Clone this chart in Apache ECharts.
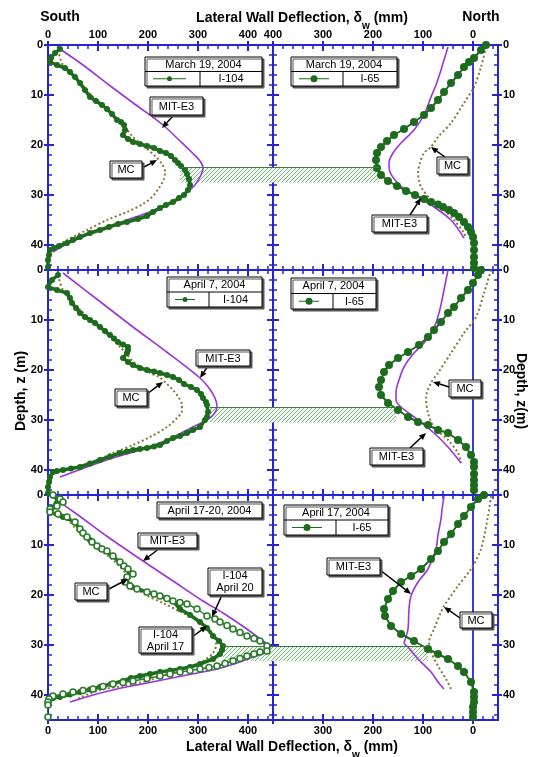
<!DOCTYPE html>
<html><head><meta charset="utf-8">
<script src="https://cdn.jsdelivr.net/npm/echarts@6/dist/echarts.min.js"></script>
<style>html,body{margin:0;padding:0;background:#fff}#c{width:536px;height:757px}</style>
</head><body><div id="c"></div>
<script>
// ===== tick labels =====
const leftXTickLabels = [0, 100, 200, 300, 400];
const rightXTopLabels = [400, 300, 200, 100, 0];
const rightXBottomLabels = [300, 200, 100, 0];
const depthTickLabels = [0, 10, 20, 30, 40];

// ===== series data: [deflection mm, depth m] =====
// Row 1 - March 19, 2004
const I104_mar19 = [[24,0.8],[14,1.6],[6,2.6],[4,3.4],[18,4],[34,4.6],[44,5.4],[54,6.4],[64,7.6],[74,9],[84,10.4],[96,11.2],[108,12],[118,12.8],[128,13.8],[138,15],[146,15.4],[152,16],[154,17],[150,18],[160,18.8],[170,19.4],[184,19.8],[198,20.2],[212,20.6],[224,21.2],[236,21.6],[246,22.2],[254,23],[260,23.6],[266,24.2],[274,25],[278,25.8],[282,26.8],[284,28],[280,29],[272,30],[262,30.6],[250,31.4],[236,32],[224,32.6],[210,33.4],[198,34.2],[180,34.8],[158,35.4],[140,35.8],[122,36.4],[104,37],[84,37.6],[64,38.4],[50,39],[38,39.6],[22,40.2],[12,40.6],[4,41],[2,42],[0,43],[0,44.4]];
const MIT_mar19_S = [[18,0.4],[70,4],[122,8],[176,12],[230,16],[262,19],[288,21.5],[304,23.2],[310,24.6],[306,26],[294,28],[276,29.6],[258,30.8],[238,31.8],[198,33.6],[158,35],[104,37],[60,38.8],[30,40.2],[10,41.4]];
const MC_mar19_S = [[20,1],[30,4],[60,7],[90,10.4],[120,13],[150,16],[172,18.6],[196,20.6],[214,22.2],[228,23.8],[234,25.4],[232,26.8],[222,28.6],[208,30.4],[190,31.8],[158,33.4],[118,35],[78,37],[38,39],[14,40.6]];
const I65_mar19 = [[-26,0],[-16,1],[-2,2.6],[8,3.4],[18,4.4],[30,6],[44,7.6],[58,9.4],[70,11],[84,12.6],[98,14],[118,15.4],[138,16.8],[158,18],[172,19.2],[184,20.4],[192,21.6],[194,23],[192,24.6],[184,26],[170,27.2],[152,28.2],[134,29.2],[116,30],[98,30.8],[84,31.4],[70,31.9],[60,32.4],[48,33],[38,33.6],[28,34.4],[18,35.4],[10,36.4],[4,37.4],[0,38.4],[-2,39.6],[-2,41],[-2,42.4],[-2,43.6],[-2,44.6]];
const MIT_mar19_N = [[50,0.4],[58,3],[64,5],[74,8],[84,10.4],[98,14],[118,17],[144,19.6],[160,21.6],[168,23.6],[166,25.4],[156,27],[140,28.6],[110,30.4],[78,32.4],[44,35],[18,38.6]];
const MC_mar19_N = [[-26,0.4],[-16,4.4],[-2,8.4],[18,11.6],[44,15.6],[70,18.4],[84,20.4],[98,21.6],[106,23.6],[110,25.6],[108,27],[104,28.4],[84,31],[58,33],[38,35],[18,37.6],[14,38.6]];

// Row 2 - April 7, 2004
const I104_apr7 = [[20,1],[8,2],[0,3.4],[18,4],[38,4.6],[44,5.6],[48,6.6],[56,7.6],[64,8.6],[74,9.4],[84,10],[94,10.6],[104,11.4],[114,12.2],[124,13],[132,13.7],[140,14.4],[150,14.9],[160,15.4],[160,16],[158,16.6],[150,17.6],[160,18.4],[170,19],[184,19.6],[198,20],[212,20.3],[224,20.6],[238,21],[250,21.4],[262,22],[272,22.8],[286,23.4],[298,24],[306,24.8],[310,25.6],[316,26.4],[318,27],[320,28.4],[318,29.4],[314,30],[304,31.4],[290,32],[278,32.6],[264,33.2],[250,33.6],[238,34.2],[224,35],[212,35.3],[198,35.6],[184,35.8],[170,36],[158,36.3],[144,36.6],[124,37.3],[104,38],[84,38.7],[64,39.4],[46,39.7],[30,40],[18,40.2],[10,40.4],[4,41.4],[2,42.4],[0,43.4],[0,44.6]];
const MIT_apr7_S = [[30,0.6],[100,6],[170,11.4],[240,16.6],[304,21.6],[322,23.6],[334,25.6],[338,27.4],[332,28.8],[318,30],[298,31],[278,32],[238,34],[184,36],[130,37.6],[78,39.4],[24,41.4]];
const MC_apr7_S = [[20,1],[30,4],[60,7.5],[90,10.5],[120,13],[150,16],[172,18.5],[200,20.4],[222,21.4],[236,22.6],[250,24],[262,25.6],[268,27],[268,28.2],[258,29.6],[238,31.4],[204,33.4],[170,35],[130,36.6],[90,38.4],[50,39.6]];
const I65_apr7 = [[-16,0],[-10,1],[0,2.6],[10,4],[24,5.6],[38,7.4],[50,8.6],[64,10.4],[78,12],[90,13.4],[108,15],[130,16.4],[150,17.6],[168,19],[178,20.4],[184,22],[188,23.4],[184,25],[170,26.6],[150,28],[130,29.4],[110,30.4],[90,31],[70,32],[50,32.6],[30,34],[14,35.4],[4,37],[-2,38.4],[-2,39.4],[-2,40.8],[-2,42],[-2,43],[-2,44]];
const MIT_apr7_N = [[50,0],[54,2],[58,4],[68,8.6],[80,12],[98,14.6],[118,16.6],[138,19.4],[150,22.6],[154,24.4],[154,26],[144,27.4],[110,30],[78,32.6],[50,35.4],[24,38.6]];
const MC_apr7_N = [[-36,0],[-22,4.6],[-6,9.4],[18,12.6],[44,16.6],[70,20.6],[84,22.6],[94,25.4],[90,28.6],[78,31.4],[50,34],[30,36.6],[24,38.6]];

// Row 3 - April 17-20, 2004
const I104_apr20 = [[10,0],[24,0.8],[30,1.4],[18,2.2],[4,2.8],[4,3.4],[20,3.8],[38,4.4],[54,5.4],[64,6.8],[70,7.6],[78,8.4],[88,9.4],[98,10.2],[108,10.8],[118,11.2],[130,12.2],[144,13.4],[152,14.2],[160,14.8],[170,15.8],[158,16.4],[154,17.4],[164,18.2],[178,18.8],[198,19.4],[212,19.8],[224,20.2],[238,20.7],[250,21.2],[264,21.5],[278,21.8],[298,22.8],[318,24.2],[334,24.8],[344,25.4],[358,26.1],[370,26.8],[384,27.5],[398,28.2],[412,28.7],[424,29.2],[438,30.2],[438,31.2],[424,31.4],[412,31.8],[398,32.2],[384,32.7],[370,33.2],[354,33.7],[338,34.2],[322,34.5],[304,34.8],[284,35.1],[264,35.4],[244,35.8],[224,36.2],[198,36.7],[170,37.2],[150,37.5],[130,37.8],[110,38.3],[90,38.8],[70,39.1],[50,39.4],[30,39.8],[10,40.2],[2,40.8],[0,41.4],[0,42],[-2,42.6],[-2,43.2],[-2,43.6],[0,44.4]];
const I104_apr17 = [[10,0],[20,1],[8,2.6],[4,3.4],[30,4.4],[54,5.4],[64,7],[84,9],[104,10.6],[130,12.2],[150,14.2],[164,15.6],[156,17],[168,18.4],[198,19.4],[224,20.2],[250,21.2],[264,22.8],[284,24],[304,25.4],[318,26.6],[330,28.2],[342,29.2],[350,30.2],[348,31],[344,31.8],[330,32.8],[304,33.8],[284,34.4],[264,34.8],[244,35.1],[224,35.4],[204,35.8],[184,36.2],[166,36.6],[150,37.2],[126,37.8],[104,38.4],[84,38.9],[64,39.4],[44,39.9],[24,40.4],[10,40.6],[4,40.8]];
const MIT_apr17_S = [[4,0],[60,4],[120,8.4],[190,13.2],[250,17.2],[310,21.2],[350,23.6],[392,26.4],[430,29.2],[444,30.4],[438,31.4],[410,32.4],[384,33.4],[338,34.8],[288,35.8],[238,36.8],[188,37.8],[138,38.8],[90,40],[44,41.4]];
const MC_apr17_S = [[10,0.4],[20,3],[40,5],[64,7.6],[96,10.4],[130,13],[160,16.2],[168,18],[196,20],[230,21.6],[270,23.6],[300,25],[320,26.6],[334,28.4],[336,30],[330,31.6],[310,33.2],[280,34.6],[240,35.8],[198,37.2],[150,38.2],[104,39],[58,40.8]];
const I65_apr17 = [[-22,0],[-10,0.8],[4,2.4],[18,4.2],[30,5.8],[44,7.8],[58,9.4],[70,11.2],[84,12.8],[104,14.8],[124,16.2],[144,17.4],[160,19.2],[170,20.8],[178,22.8],[176,24.2],[164,26.2],[144,27.8],[118,29.2],[90,30.8],[70,31.8],[50,32.8],[30,34.2],[18,35.4],[4,37.4],[-2,39.4],[-2,40.4],[-2,41.4],[0,42.4],[0,43.4],[0,44.4]];
const MIT_apr17_N = [[58,0.2],[62,3],[64,4.8],[70,8],[74,10.8],[90,14.8],[110,17.4],[124,20.2],[128,22.8],[130,26.8],[136,29],[138,29.6],[130,30.4],[110,32.8],[84,35.4],[70,37.4],[58,38.8]];
const MC_apr17_N = [[-36,0.2],[-30,4.2],[-16,10.8],[4,14.8],[30,18.2],[58,22.2],[64,23.4],[78,26.8],[88,29.4],[84,31.4],[70,34.2],[54,36.8],[44,38.8]];

// zero reference lines (North panels)
const zeroLine1 = [[0,3],[0,39]];
const zeroLine2 = [[0,2.6],[0,40]];
const zeroLine3 = [[0,1.5],[0,39.5]];

// hatched bands per row: depth range, start on South panel, end on North panel
const bandDepths = [[24.5,27.5],[27.5,30.5],[30.2,33.2]];
const bandSouthStart = [264, 324, 350];
const bandNorthEnd = [188, 154, 90];

// ===== styling / layout =====
const FONT = "'Liberation Sans', Arial, Helvetica, sans-serif";
const AX = '#2424d4';
const GREEN = '#1d6b1d';
const PURPLE = '#9a35dc';
const OLIVE = '#8a7638';
const gridLefts = [48, 273];
const gridTops = [45, 270, 495];
const GW = 225, GH = 225;

const chart = echarts.init(document.getElementById('c'), null, {renderer: 'canvas'});

function hatchCanvas() {
  const c = document.createElement('canvas'); c.width = 4; c.height = 4;
  const x = c.getContext('2d');
  x.fillStyle = '#f2f9f2'; x.fillRect(0, 0, 4, 4);
  x.strokeStyle = '#74ad74'; x.lineWidth = 0.9;
  x.beginPath();
  x.moveTo(-1, 5); x.lineTo(5, -1);
  x.moveTo(-1, 1); x.lineTo(1, -1);
  x.moveTo(3, 5); x.lineTo(5, 3);
  x.stroke();
  return c;
}
const hatch = {image: hatchCanvas(), repeat: 'repeat'};

const labelStyle = {color: '#000', fontSize: 11, fontWeight: 'bold', fontFamily: FONT};

const grids = [], xAxes = [], yAxes = [];
for (let row = 0; row < 3; row++) {
  for (let col = 0; col < 2; col++) {
    const g = row * 2 + col;
    grids.push({left: gridLefts[col], top: gridTops[row], width: GW, height: GH, containLabel: false});
    const xmin = col === 0 ? 0 : -50, xmax = col === 0 ? 450 : 400;
    const xMajors = col === 0 ? [0,100,200,300,400] : [400,300,200,100,0];
    const xMinors = [];
    for (let v = (col === 0 ? 20 : -40); v < xmax; v += 20) if (v % 100 !== 0) xMinors.push(v);
    const xb = {type: 'value', gridIndex: g, min: xmin, max: xmax, inverse: col === 1, splitLine: {show: false}};
    ['top', 'bottom'].forEach(pos => {
      const showLab = (pos === 'top' && row === 0) || (pos === 'bottom' && row === 2);
      const labs = pos === 'top' ? (col === 0 ? leftXTickLabels : rightXTopLabels) : (col === 0 ? leftXTickLabels : rightXBottomLabels);
      xAxes.push(Object.assign({}, xb, {position: pos,
        axisLine: {show: true, onZero: false, lineStyle: {color: AX, width: 2}},
        axisTick: {show: true, inside: true, length: 6, customValues: xMajors, lineStyle: {color: AX, width: 2}},
        axisLabel: Object.assign({show: showLab, customValues: labs, margin: 5, hideOverlap: false}, labelStyle)}));
      xAxes.push(Object.assign({}, xb, {position: pos,
        axisLine: {show: false, onZero: false},
        axisTick: {show: true, inside: false, length: 4, customValues: xMajors, lineStyle: {color: AX, width: 2}},
        axisLabel: {show: false}}));
      xAxes.push(Object.assign({}, xb, {position: pos,
        axisLine: {show: false, onZero: false},
        axisTick: {show: true, inside: true, length: 4, customValues: xMinors, lineStyle: {color: AX, width: 1.5}},
        axisLabel: {show: false}}));
    });
    const yMajors = [0,10,20,30,40];
    const yMinors = [];
    for (let v = 2; v < 45; v += 2) if (v % 10 !== 0) yMinors.push(v);
    const yb = {type: 'value', gridIndex: g, min: 0, max: 45, inverse: true, splitLine: {show: false}};
    ['left', 'right'].forEach(pos => {
      const showLab = (pos === 'left' && col === 0) || (pos === 'right' && col === 1);
      yAxes.push(Object.assign({}, yb, {position: pos,
        axisLine: {show: true, onZero: false, lineStyle: {color: AX, width: 2}},
        axisTick: {show: true, inside: true, length: 6, customValues: yMajors, lineStyle: {color: AX, width: 2}},
        axisLabel: Object.assign({show: showLab, customValues: depthTickLabels, margin: 5, hideOverlap: false}, labelStyle)}));
      yAxes.push(Object.assign({}, yb, {position: pos,
        axisLine: {show: false, onZero: false},
        axisTick: {show: true, inside: false, length: 4, customValues: yMajors, lineStyle: {color: AX, width: 2}},
        axisLabel: {show: false}}));
      yAxes.push(Object.assign({}, yb, {position: pos,
        axisLine: {show: false, onZero: false},
        axisTick: {show: true, inside: true, length: 4, customValues: yMinors, lineStyle: {color: AX, width: 1.5}},
        axisLabel: {show: false}}));
    });
  }
}

const series = [];
function ax(g) { return {xAxisIndex: g * 6, yAxisIndex: g * 6}; }
function mitSeries(g, data) {
  series.push(Object.assign({type: 'line', name: 'MIT-E3', data, showSymbol: false, smooth: 0.3, z: 3,
    lineStyle: {color: PURPLE, width: 1.6}, silent: true}, ax(g)));
}
function mcSeries(g, data) {
  series.push(Object.assign({type: 'line', name: 'MC', data, showSymbol: false, smooth: 0.3, z: 2,
    lineStyle: {color: OLIVE, width: 2, type: [2, 2.5]}, silent: true}, ax(g)));
}
function southObs(g, data) {
  series.push(Object.assign({type: 'line', name: 'I-104', data, symbol: 'circle', symbolSize: 6, showAllSymbol: true, z: 4,
    itemStyle: {color: GREEN}, lineStyle: {color: GREEN, width: 3.5}, silent: true}, ax(g)));
}
function northObs(g, data) {
  series.push(Object.assign({type: 'line', name: 'I-65', data, symbol: 'circle', symbolSize: 8, showAllSymbol: true, z: 4,
    itemStyle: {color: GREEN}, lineStyle: {color: GREEN, width: 2}, silent: true}, ax(g)));
}
function openObs(g, data) {
  series.push(Object.assign({type: 'line', name: 'I-104 April 20', data, symbol: 'circle', symbolSize: 6, showAllSymbol: true, z: 5,
    itemStyle: {color: '#fff', borderColor: '#2b7d2b', borderWidth: 1.6}, lineStyle: {color: '#2b7d2b', width: 1.5}, silent: true}, ax(g)));
}
function zeroSeries(g, data) {
  series.push(Object.assign({type: 'line', data, showSymbol: false, z: 1, lineStyle: {color: AX, width: 1.8}, silent: true}, ax(g)));
}
function bandSeries(g, row, x1, x2) {
  const d = bandDepths[row];
  series.push(Object.assign({type: 'line', data: [], z: 1, silent: true,
    markArea: {silent: true, label: {show: false}, itemStyle: {color: hatch, opacity: 1},
      data: [[{coord: [x1, d[0]]}, {coord: [x2, d[1]]}]]},
    markLine: {silent: true, symbol: 'none', label: {show: false}, lineStyle: {color: '#3d7a3d', width: 1, type: 'solid'},
      data: [[{coord: [x1, d[0]]}, {coord: [x2, d[0]]}]]}
  }, ax(g)));
}

bandSeries(0, 0, bandSouthStart[0], 450); bandSeries(1, 0, 400, bandNorthEnd[0]);
mcSeries(0, MC_mar19_S); mitSeries(0, MIT_mar19_S); southObs(0, I104_mar19);
zeroSeries(1, zeroLine1); mcSeries(1, MC_mar19_N); mitSeries(1, MIT_mar19_N); northObs(1, I65_mar19);
bandSeries(2, 1, bandSouthStart[1], 450); bandSeries(3, 1, 400, bandNorthEnd[1]);
mcSeries(2, MC_apr7_S); mitSeries(2, MIT_apr7_S); southObs(2, I104_apr7);
zeroSeries(3, zeroLine2); mcSeries(3, MC_apr7_N); mitSeries(3, MIT_apr7_N); northObs(3, I65_apr7);
bandSeries(4, 2, bandSouthStart[2], 450); bandSeries(5, 2, 400, bandNorthEnd[2]);
mcSeries(4, MC_apr17_S); mitSeries(4, MIT_apr17_S); southObs(4, I104_apr17); openObs(4, I104_apr20);
zeroSeries(5, zeroLine3); mcSeries(5, MC_apr17_N); mitSeries(5, MIT_apr17_N); northObs(5, I65_apr17);

chart.setOption({animation: false, backgroundColor: '#fff', grid: grids, xAxis: xAxes, yAxis: yAxes, series});

// ===== texts, legends, annotations =====
const gfx = [];
const titleRich = {
  b: {fontSize: 14, fontWeight: 'bold', fontFamily: FONT, fill: '#000', lineHeight: 26},
  s: {fontSize: 10, fontWeight: 'bold', fontFamily: FONT, fill: '#000', lineHeight: 26, verticalAlign: 'bottom'}
};
function bigText(x, y, text, rot) {
  gfx.push({type: 'text', x, y, rotation: rot || 0, z: 100,
    style: {text, fontSize: 14, fontWeight: 'bold', fontFamily: FONT, fill: '#000', align: 'center', verticalAlign: 'middle'}});
}
bigText(60, 17, 'South'); bigText(481, 17, 'North');
gfx.push({type: 'text', x: 302, y: 18, z: 100, style: {text: '{b|Lateral Wall Deflection, δ}{s|w}{b| (mm)}', rich: titleRich, align: 'center', verticalAlign: 'middle'}});
gfx.push({type: 'text', x: 292, y: 747, z: 100, style: {text: '{b|Lateral Wall Deflection, δ}{s|w}{b| (mm)}', rich: titleRich, align: 'center', verticalAlign: 'middle'}});
bigText(21, 391, 'Depth, z (m)', Math.PI / 2);
bigText(521, 391, 'Depth, z(m)', -Math.PI / 2);

const boxShadow = {shadowColor: '#555', shadowOffsetX: 2, shadowOffsetY: 2, shadowBlur: 0};
const smallText = {fontSize: 11, fontFamily: FONT, fill: '#000', align: 'center', verticalAlign: 'middle'};
const legends = [
  {x: 145, y: 57, w: 117, h: 29, title: 'March 19, 2004', name: 'I-104', split: 200, dot: 4},
  {x: 291, y: 57, w: 106, h: 29, title: 'March 19, 2004', name: 'I-65', split: 343, dot: 6},
  {x: 167, y: 277, w: 95, h: 30, title: 'April 7, 2004', name: 'I-104', split: 209, dot: 4},
  {x: 291, y: 278, w: 85, h: 31, title: 'April 7, 2004', name: 'I-65', split: 333, dot: 6},
  {x: 157, y: 502, w: 105, h: 16, title: 'April 17-20, 2004'},
  {x: 284, y: 505, w: 104, h: 30, title: 'April 17, 2004', name: 'I-65', split: 336, dot: 6}
];
legends.forEach(L => {
  gfx.push({type: 'rect', z: 90, shape: {x: L.x, y: L.y, width: L.w, height: L.h},
    style: Object.assign({fill: '#fff', stroke: '#000', lineWidth: 1}, boxShadow)});
  if (!L.name) {
    gfx.push({type: 'text', z: 91, x: L.x + L.w / 2, y: L.y + L.h / 2 + 0.5, style: Object.assign({text: L.title}, smallText)});
    return;
  }
  const hy = L.y + L.h / 2;
  gfx.push({type: 'text', z: 91, x: L.x + L.w / 2, y: L.y + L.h / 4 + 0.5, style: Object.assign({text: L.title}, smallText)});
  gfx.push({type: 'line', z: 91, shape: {x1: L.x, y1: hy, x2: L.x + L.w, y2: hy}, style: {stroke: '#000', lineWidth: 1}});
  gfx.push({type: 'line', z: 91, shape: {x1: L.split, y1: hy, x2: L.split, y2: L.y + L.h}, style: {stroke: '#000', lineWidth: 1}});
  const ly = L.y + L.h * 0.75;
  gfx.push({type: 'line', z: 91, shape: {x1: L.x + 8, y1: ly, x2: L.split - 14, y2: ly}, style: {stroke: GREEN, lineWidth: 1}});
  gfx.push({type: 'circle', z: 92, shape: {cx: (L.x + 8 + L.split - 14) / 2, cy: ly, r: L.dot / 2 + 0.5}, style: {fill: GREEN}});
  gfx.push({type: 'text', z: 91, x: (L.split + L.x + L.w) / 2, y: ly + 0.5, style: Object.assign({text: L.name}, smallText)});
});

const annots = [
  {g: 0, box: [150, 97, 53, 18], text: 'MIT-E3', from: [174, 115], tip: [228, 16.6]},
  {g: 0, box: [110, 161, 32, 17], text: 'MC', from: [142, 168], tip: [218, 23]},
  {g: 1, box: [437, 157, 31, 17], text: 'MC', from: [445, 157], tip: [84, 20.4]},
  {g: 1, box: [372, 215, 55, 17], text: 'MIT-E3', from: [410, 215], tip: [104, 30.6]},
  {g: 2, box: [196, 350, 54, 16], text: 'MIT-E3', from: [208, 366], tip: [304, 21.6]},
  {g: 2, box: [115, 389, 32, 17], text: 'MC', from: [147, 394], tip: [230, 22.4]},
  {g: 3, box: [449, 380, 32, 17], text: 'MC', from: [449, 387], tip: [80, 22.4]},
  {g: 3, box: [370, 448, 53, 17], text: 'MIT-E3', from: [410, 448], tip: [94, 32.6]},
  {g: 4, box: [138, 533, 59, 15], text: 'MIT-E3', from: [160, 548], tip: [190, 13.2]},
  {g: 4, box: [75, 583, 32, 17], text: 'MC', from: [107, 590], tip: [160, 16.8]},
  {g: 4, box: [208, 568, 54, 27], text: 'I-104\nApril 20', from: [222, 595], tip: [328, 24.4]},
  {g: 4, box: [139, 627, 53, 26], text: 'I-104\nApril 17', from: [192, 637], tip: [318, 26.2]},
  {g: 5, box: [327, 558, 53, 17], text: 'MIT-E3', from: [380, 570], tip: [124, 19.8]},
  {g: 5, box: [460, 612, 32, 16], text: 'MC', from: [460, 618], tip: [58, 22.4]}
];
annots.forEach(a => {
  const t = chart.convertToPixel({xAxisIndex: a.g * 6, yAxisIndex: a.g * 6}, a.tip);
  const [fx, fy] = a.from;
  const dx = t[0] - fx, dy = t[1] - fy, len = Math.hypot(dx, dy) || 1;
  const ux = dx / len, uy = dy / len, hl = 7, hw = 3;
  const bx = t[0] - ux * hl, by = t[1] - uy * hl;
  gfx.push({type: 'line', z: 95, shape: {x1: fx, y1: fy, x2: bx, y2: by}, style: {stroke: '#000', lineWidth: 1.5}});
  gfx.push({type: 'polygon', z: 95, shape: {points: [[t[0], t[1]], [bx - uy * hw, by + ux * hw], [bx + uy * hw, by - ux * hw]]}, style: {fill: '#000'}});
  const [x, y, w, h] = a.box;
  gfx.push({type: 'rect', z: 96, shape: {x, y, width: w, height: h}, style: Object.assign({fill: '#fff', stroke: '#000', lineWidth: 1}, boxShadow)});
  gfx.push({type: 'text', z: 97, x: x + w / 2, y: y + h / 2 + 0.5, style: Object.assign({text: a.text, lineHeight: 12}, smallText)});
});

chart.setOption({graphic: gfx});
</script>
</body></html>
